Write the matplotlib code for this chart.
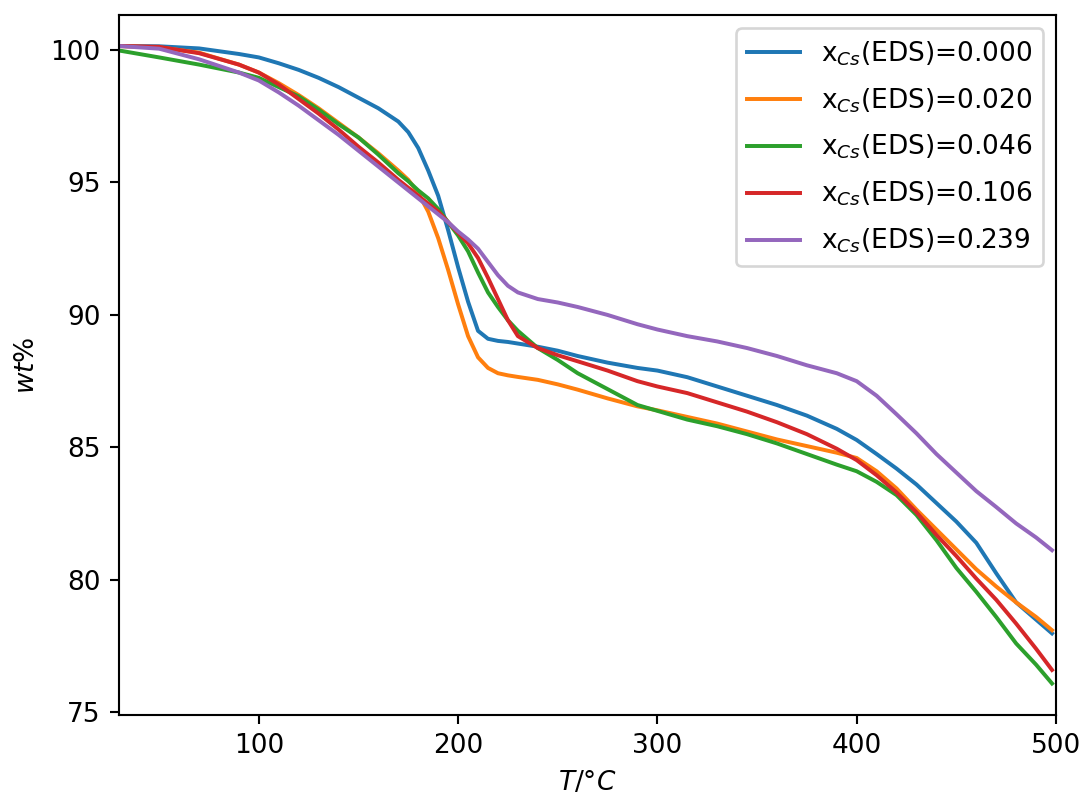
import matplotlib
matplotlib.use("Agg")
from matplotlib import pyplot as plt

# temperature grid (°C) shared by all TGA curves
temps = [30, 50, 70, 90, 100, 110, 120, 130, 140, 150, 160, 170, 175, 180, 185,
         190, 195, 200, 205, 210, 215, 220, 225, 230, 240, 250, 260, 275, 290,
         300, 315, 330, 345, 360, 375, 390, 400, 410, 420, 430, 440, 450, 460,
         470, 480, 490, 498]

labels = ["0.000", "0.020", "0.046", "0.106", "0.239"]

wt_000 = [100.15, 100.14, 100.06, 99.85, 99.72, 99.5, 99.25, 98.95, 98.6, 98.2,
          97.8, 97.3, 96.9, 96.3, 95.45, 94.5, 93.2, 91.8, 90.5, 89.4, 89.1,
          89.02, 88.98, 88.92, 88.8, 88.65, 88.45, 88.2, 88.0, 87.9, 87.65,
          87.3, 86.95, 86.6, 86.2, 85.7, 85.28, 84.75, 84.2, 83.6, 82.9, 82.2,
          81.4, 80.25, 79.15, 78.5, 77.98]
wt_020 = [100.15, 100.1, 99.9, 99.45, 99.15, 98.75, 98.3, 97.8, 97.25, 96.7,
          96.1, 95.45, 95.1, 94.6, 93.9, 92.9, 91.7, 90.4, 89.2, 88.4, 88.0,
          87.8, 87.72, 87.66, 87.55, 87.38, 87.18, 86.85, 86.55, 86.4, 86.15,
          85.9, 85.6, 85.3, 85.05, 84.8, 84.6, 84.1, 83.45, 82.65, 81.9, 81.15,
          80.4, 79.75, 79.15, 78.6, 78.1]
wt_046 = [99.98, 99.72, 99.45, 99.15, 98.95, 98.6, 98.25, 97.75, 97.2, 96.7,
          96.05, 95.35, 95.05, 94.7, 94.4, 94.0, 93.5, 93.0, 92.4, 91.6,
          90.85, 90.3, 89.8, 89.4, 88.75, 88.3, 87.8, 87.2, 86.6, 86.38, 86.05,
          85.8, 85.5, 85.15, 84.75, 84.35, 84.1, 83.7, 83.2, 82.45, 81.5, 80.45,
          79.55, 78.6, 77.6, 76.8, 76.09]
wt_106 = [100.15, 100.12, 99.88, 99.45, 99.15, 98.7, 98.15, 97.6, 97.0, 96.35,
          95.75, 95.1, 94.8, 94.5, 94.2, 93.9, 93.5, 93.1, 92.7, 92.15, 91.4,
          90.6, 89.8, 89.2, 88.75, 88.48, 88.25, 87.9, 87.5, 87.3, 87.05, 86.7,
          86.35, 85.95, 85.5, 84.95, 84.52, 83.95, 83.3, 82.55, 81.7, 80.9, 80.05,
          79.25, 78.35, 77.4, 76.6]
wt_239 = [100.15, 100.05, 99.65, 99.15, 98.85, 98.4, 97.9, 97.35, 96.8, 96.2,
          95.6, 95.0, 94.7, 94.4, 94.1, 93.8, 93.5, 93.15, 92.85, 92.5, 92.0,
          91.5, 91.1, 90.85, 90.6, 90.47, 90.3, 90.0, 89.65, 89.45, 89.2, 89.0,
          88.75, 88.45, 88.1, 87.8, 87.5, 86.95, 86.25, 85.53, 84.75, 84.05,
          83.35, 82.75, 82.13, 81.6, 81.12]

series = [wt_000, wt_020, wt_046, wt_106, wt_239]

fig = plt.figure(figsize=(1081 / 190, 796 / 190), dpi=190)
ax = fig.add_axes([119.3 / 1081, 1 - 715 / 796, (1056 - 119.3) / 1081, (715 - 15.3) / 796])

for lab, wt in zip(labels, series):
    ax.plot(temps, wt, label=r"x$_{Cs}$(EDS)=" + lab)

ax.set_xlim(30, 500)
ax.set_ylim(74.9, 101.31)
ax.set_xlabel(r"$T/°C$")
ax.set_ylabel(r"$wt\%$")
ax.legend(loc="upper right", labelspacing=0.7)

fig.savefig("out.png", dpi=190)
